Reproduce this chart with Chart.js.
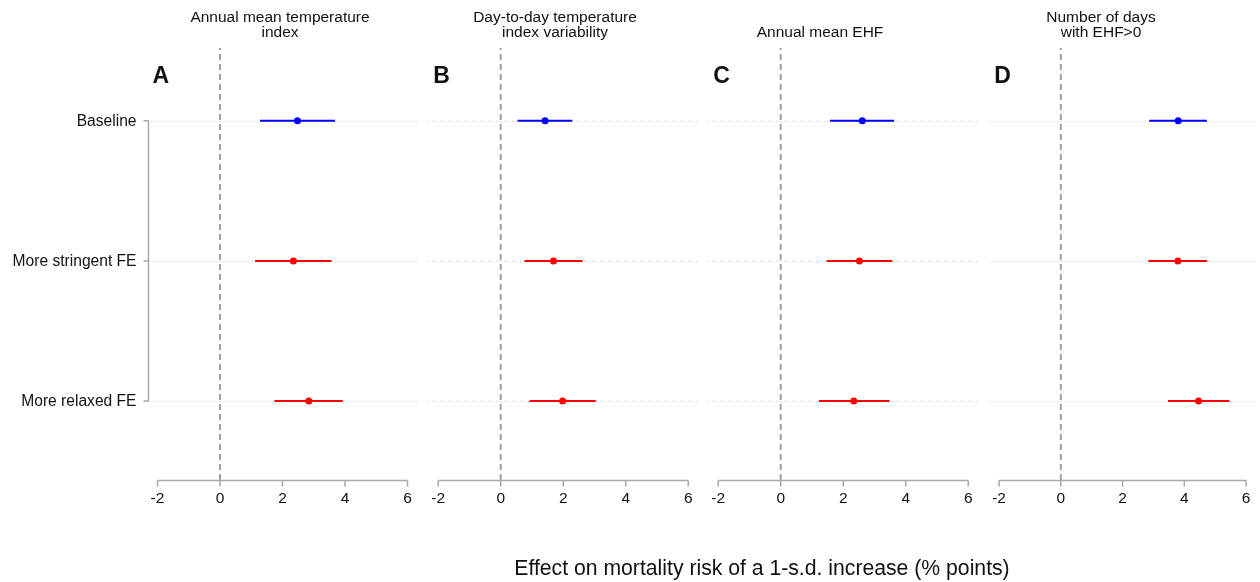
<!DOCTYPE html>
<html>
<head>
<meta charset="utf-8">
<script src="https://cdn.jsdelivr.net/npm/chart.js@4.4.1/dist/chart.umd.min.js"></script>
<style>
  body { margin: 0; background: #fff; }
  #wrap { position: relative; width: 1260px; height: 582px; }
  .layer { position: absolute; left: 0; top: 0; }
  #xtitle {
    position: absolute; left: 262px; width: 1000px; top: 555px;
    text-align: center; font-family: "Liberation Sans", Arial, sans-serif;
    font-size: 21.2px; line-height: 26px; color: #111;
  }
</style>
</head>
<body>
<div id="wrap">
  <canvas class="layer" id="panel0" width="1260" height="582"></canvas>
  <canvas class="layer" id="panel1" width="1260" height="582"></canvas>
  <canvas class="layer" id="panel2" width="1260" height="582"></canvas>
  <canvas class="layer" id="panel3" width="1260" height="582"></canvas>
  <div id="xtitle">Effect on mortality risk of a 1-s.d. increase (% points)</div>
</div>
<script>
const rowLabels = ['Baseline', 'More stringent FE', 'More relaxed FE'];
const rowPos = [3, 2, 1];
const rowColors = ['#0000ff', '#ff0000', '#ff0000'];
const xTicks = [-2, 0, 2, 4, 6];
const panelLetters = ['A', 'B', 'C', 'D'];
const panelTitles = [
  ['Annual mean temperature', 'index'],
  ['Day-to-day temperature', 'index variability'],
  ['Annual mean EHF'],
  ['Number of days', 'with EHF>0']
];

// point estimate and 95% interval, rows in rowLabels order
const estA = [2.48, 2.35, 2.84];
const lowA = [1.28, 1.12, 1.74];
const highA = [3.68, 3.57, 3.93];

const estB = [1.42, 1.69, 1.98];
const lowB = [0.54, 0.76, 0.92];
const highB = [2.29, 2.62, 3.04];

const estC = [2.61, 2.52, 2.34];
const lowC = [1.58, 1.47, 1.22];
const highC = [3.63, 3.57, 3.48];

const estD = [3.80, 3.79, 4.46];
const lowD = [2.86, 2.83, 3.47];
const highD = [4.73, 4.74, 5.46];

const panelEst = [estA, estB, estC, estD];
const panelLow = [lowA, lowB, lowC, lowD];
const panelHigh = [highA, highB, highC, highD];

const xMin = -2.32, xMax = 6.32;
const yMin = 0.436, yMax = 3.52;
const panelLeft = [147.5, 428.2, 708.2, 989.2];
const titleCenter = [280, 555, 820, 1101];
const plotW = 270;
const FONT = '"Liberation Sans", Arial, sans-serif';

const forestAxes = {
  id: 'forestAxes',
  beforeDatasetsDraw(chart) {
    const { ctx, chartArea, scales: { y } } = chart;
    ctx.save();
    ctx.strokeStyle = '#c0c0c0';
    ctx.lineWidth = 1;
    ctx.setLineDash([1, 3]);
    rowPos.forEach(p => {
      const py = Math.round(y.getPixelForValue(p)) + 0.5;
      ctx.beginPath();
      ctx.moveTo(chartArea.left, py);
      ctx.lineTo(chartArea.right, py);
      ctx.stroke();
    });
    ctx.restore();
  },
  afterDraw(chart) {
    const { ctx, chartArea, scales: { x, y } } = chart;
    const idx = chart.options.plugins.forestAxes.index;
    ctx.save();

    // x axis, R style
    const by = chartArea.bottom + 0.5;
    ctx.strokeStyle = '#a8a8a8';
    ctx.lineWidth = 1.5;
    ctx.beginPath();
    ctx.moveTo(x.getPixelForValue(xTicks[0]), by);
    ctx.lineTo(x.getPixelForValue(xTicks[xTicks.length - 1]), by);
    xTicks.forEach(t => {
      const px = x.getPixelForValue(t);
      ctx.moveTo(px, by);
      ctx.lineTo(px, by + 6);
    });
    ctx.stroke();
    ctx.fillStyle = '#111';
    ctx.font = '15.5px ' + FONT;
    ctx.textAlign = 'center';
    ctx.textBaseline = 'top';
    xTicks.forEach(t => {
      ctx.fillText(String(t), x.getPixelForValue(t), by + 10);
    });

    // panel title, bottom aligned
    const lines = panelTitles[idx];
    ctx.textBaseline = 'alphabetic';
    lines.forEach((s, i) => {
      const base = 37 - (lines.length - 1 - i) * 15.5;
      ctx.fillText(s, titleCenter[idx], base);
    });

    // panel letter
    ctx.font = 'bold 23px ' + FONT;
    ctx.textAlign = 'left';
    ctx.fillText(panelLetters[idx], chartArea.left + 5, 83);

    // y axis with row labels on first panel only
    if (idx === 0) {
      const ax = chartArea.left + 1;
      ctx.strokeStyle = '#a8a8a8';
      ctx.lineWidth = 1.5;
      ctx.beginPath();
      ctx.moveTo(ax, y.getPixelForValue(rowPos[0]));
      ctx.lineTo(ax, y.getPixelForValue(rowPos[rowPos.length - 1]));
      rowPos.forEach(p => {
        const py = y.getPixelForValue(p);
        ctx.moveTo(ax, py);
        ctx.lineTo(ax - 5, py);
      });
      ctx.stroke();
      ctx.font = '15.6px ' + FONT;
      ctx.textAlign = 'right';
      ctx.textBaseline = 'middle';
      rowLabels.forEach((s, i) => {
        ctx.fillText(s, ax - 12, y.getPixelForValue(rowPos[i]) + 1);
      });
    }
    ctx.restore();
  }
};

function makePanel(idx) {
  const est = panelEst[idx], low = panelLow[idx], high = panelHigh[idx];
  const datasets = [];
  datasets.push({
    type: 'scatter',
    data: est.map((v, i) => ({ x: v, y: rowPos[i] })),
    pointRadius: 3.5,
    pointBackgroundColor: rowColors,
    pointBorderColor: rowColors,
    pointBorderWidth: 0,
    order: 1
  });
  rowPos.forEach((p, i) => {
    datasets.push({
      type: 'line',
      data: [{ x: low[i], y: p }, { x: high[i], y: p }],
      borderColor: rowColors[i],
      borderWidth: 2,
      pointRadius: 0,
      order: 2
    });
  });
  datasets.push({
    type: 'line',
    data: [{ x: 0, y: yMin }, { x: 0, y: yMax }],
    borderColor: '#a0a0a0',
    borderWidth: 2,
    borderDash: [6, 4],
    pointRadius: 0,
    order: 3
  });

  const left = panelLeft[idx];
  new Chart(document.getElementById('panel' + idx), {
    type: 'scatter',
    data: { datasets: datasets },
    options: {
      responsive: false,
      animation: false,
      events: [],
      devicePixelRatio: 1,
      layout: {
        padding: { left: left, right: 1260 - left - plotW, top: 48, bottom: 102 }
      },
      scales: {
        x: { type: 'linear', min: xMin, max: xMax, display: false },
        y: { type: 'linear', min: yMin, max: yMax, display: false }
      },
      plugins: {
        legend: { display: false },
        tooltip: { enabled: false },
        forestAxes: { index: idx }
      }
    },
    plugins: [forestAxes]
  });
}

[0, 1, 2, 3].forEach(makePanel);
</script>
</body>
</html>
